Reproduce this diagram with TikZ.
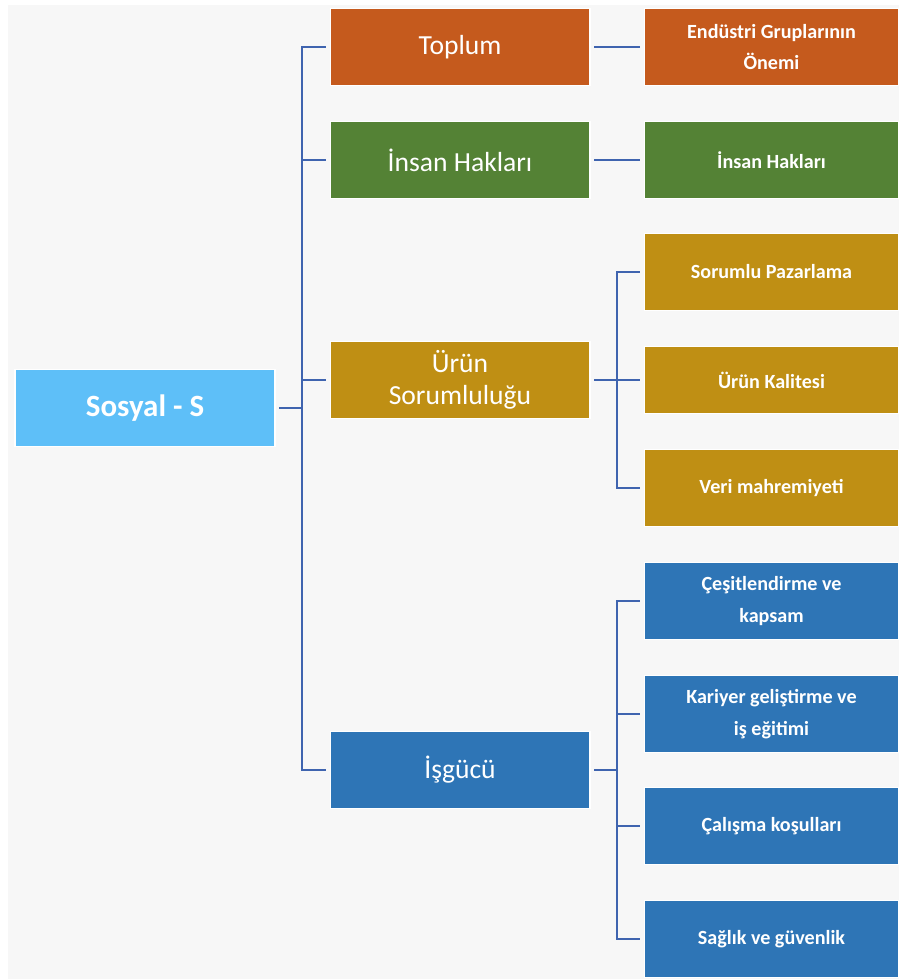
\documentclass[tikz,border=0pt]{standalone}
\usepackage{fontspec}
\setmainfont{Carlito}
\usepackage{xcolor}
\definecolor{sosyal-sky}{HTML}{5EBFF8}
\definecolor{sosyal-orange}{HTML}{C55A1D}
\definecolor{sosyal-green}{HTML}{548235}
\definecolor{sosyal-gold}{HTML}{BF8F14}
\definecolor{sosyal-blue}{HTML}{2E75B6}
\definecolor{sosyal-line}{HTML}{3F64AF}
\definecolor{sosyal-bg}{HTML}{F7F7F7}
\usepackage{tikz}

\begin{document}
\begin{tikzpicture}[x=0.02cm, y=-0.02cm,
    box/.style={rectangle, draw=white, line width=0.6pt, text=white, align=center,
        minimum height=1.54cm, inner sep=0pt},
    mainbox/.style={box, minimum width=5.2cm, font=\fontsize{15.7}{18}\selectfont},
    leafbox/.style={box, minimum width=5.1cm, font=\bfseries\fontsize{11.45}{18}\selectfont},
    link/.style={draw=sosyal-line, line width=1.3pt}]

    % Background
    \useasboundingbox (0,0) rectangle (899,979);
    \fill[white] (0,0) rectangle (899,979);
    \fill[sosyal-bg] (8,5) rectangle (899,979);

% Kök
\node[box, fill=sosyal-sky, minimum width=5.2cm, font=\bfseries\fontsize{17.6}{20}\selectfont]
    (sosyal) at (145,408) {Sosyal - S};

% Ana başlıklar
\node[mainbox, fill=sosyal-orange] (toplum) at (460,47) {Toplum};
\node[mainbox, fill=sosyal-green] (insan) at (460,160) {İnsan Hakları};
\node[mainbox, fill=sosyal-gold] (urun) at (460,380) {Ürün\\Sorumluluğu};
\node[mainbox, fill=sosyal-blue] (isgucu) at (460,770) {İşgücü};

% Alt başlıklar
\node[leafbox, fill=sosyal-orange] (endustri) at (771.5,47) {Endüstri Gruplarının\\Önemi};
\node[leafbox, fill=sosyal-green] (haklar) at (771.5,160) {İnsan Hakları};
\node[leafbox, fill=sosyal-gold] (pazarlama) at (771.5,272) {Sorumlu Pazarlama};
\node[leafbox, fill=sosyal-gold, minimum height=1.34cm] (kalite) at (771.5,380) {Ürün Kalitesi};
\node[leafbox, fill=sosyal-gold] (veri) at (771.5,488) {Veri mahremiyeti};
\node[leafbox, fill=sosyal-blue] (cesit) at (771.5,601) {Çeşitlendirme ve\\kapsam};
\node[leafbox, fill=sosyal-blue] (kariyer) at (771.5,714) {Kariyer geliştirme ve\\iş eğitimi};
\node[leafbox, fill=sosyal-blue] (calisma) at (771.5,826) {Çalışma koşulları};
\node[leafbox, fill=sosyal-blue] (saglik) at (771.5,939) {Sağlık ve güvenlik};

% Bağlantılar
\coordinate (trunk) at (302,408);
\coordinate (urunhub) at (617,380);
\coordinate (isguchub) at (617,770);

\draw[link, shorten <=2pt] (sosyal.east) -- (trunk);
\foreach \n in {toplum, insan, urun, isgucu}
    \draw[link, shorten >=2pt] (trunk) |- (\n.west);

\draw[link, shorten <=2pt, shorten >=2pt] (toplum.east) -- (endustri.west);
\draw[link, shorten <=2pt, shorten >=2pt] (insan.east) -- (haklar.west);

\draw[link, shorten <=2pt] (urun.east) -- (urunhub);
\foreach \n in {pazarlama, kalite, veri}
    \draw[link, shorten >=2pt] (urunhub) |- (\n.west);

\draw[link, shorten <=2pt] (isgucu.east) -- (isguchub);
\foreach \n in {cesit, kariyer, calisma, saglik}
    \draw[link, shorten >=2pt] (isguchub) |- (\n.west);

\end{tikzpicture}
\end{document}
